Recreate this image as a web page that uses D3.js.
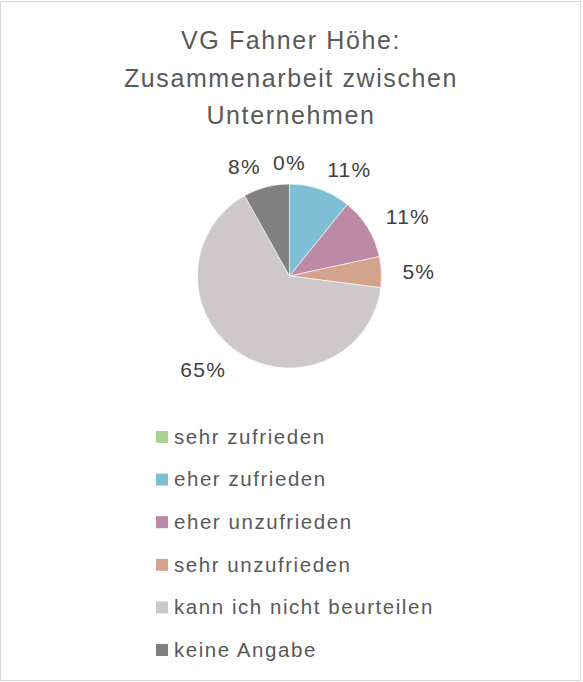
<!DOCTYPE html>
<html>
<head>
<meta charset="utf-8">
<script src="https://cdn.jsdelivr.net/npm/d3@7"></script>
<style>
  html, body { margin: 0; padding: 0; background: #fff; }
  svg { display: block; }
</style>
</head>
<body>
<svg id="chart" width="583" height="682" font-family="'Liberation Sans', Arial, Helvetica, sans-serif"></svg>
<script>
// Survey answers: number of responses per category
const categories = ["sehr zufrieden", "eher zufrieden", "eher unzufrieden", "sehr unzufrieden", "kann ich nicht beurteilen", "keine Angabe"];
const counts = [0, 4, 4, 2, 24, 3];
const colors = ["#a9d18e", "#7fbfd4", "#bc8aa6", "#d4a38d", "#cec8ca", "#808080"];
const titleLines = ["VG Fahner Höhe:", "Zusammenarbeit zwischen", "Unternehmen"];

const svg = d3.select("#chart");

// chart area frame
svg.append("rect")
  .attr("x", 0.5).attr("y", 1.5).attr("width", 580).attr("height", 679)
  .attr("fill", "#fff").attr("stroke", "#d9d9d9").attr("stroke-width", 1);

// title
svg.append("g").selectAll("text").data(titleLines).join("text")
  .attr("x", 291).attr("y", (d, i) => 49 + i * 37.5)
  .attr("text-anchor", "middle")
  .attr("fill", "#595959").attr("font-size", 25)
  .attr("letter-spacing", 1.6)
  .text(d => d);

// pie
const cx = 289.5, cy = 276, r = 92;
const total = d3.sum(counts);
const pie = d3.pie().sort(null).value(d => d)(counts);
const arc = d3.arc().innerRadius(0).outerRadius(r);
const color = d3.scaleOrdinal().domain(categories).range(colors);

const g = svg.append("g").attr("transform", `translate(${cx},${cy})`);
g.selectAll("path").data(pie).join("path")
  .attr("d", arc)
  .attr("fill", (d, i) => color(categories[i]))
  .attr("stroke", "#fff").attr("stroke-width", 0.6);

// percentage labels outside the slices
const pct = d3.format(".0%");
const labelR = 113;
g.selectAll("text").data(pie).join("text")
  .each(function(d) {
    const a = (d.startAngle + d.endAngle) / 2;
    const s = Math.sin(a), c = Math.cos(a);
    d3.select(this)
      .attr("x", s * labelR)
      .attr("y", -c * labelR)
      .attr("text-anchor", s > 0.3 ? "start" : (s < -0.2 ? "end" : "middle"));
  })
  .attr("dy", "0.35em")
  .attr("fill", "#404040").attr("font-size", 21)
  .attr("letter-spacing", 1.3)
  .text(d => pct(d.data / total));

// legend
const lg = svg.append("g").attr("transform", "translate(156,437)");
const rows = lg.selectAll("g").data(categories).join("g")
  .attr("transform", (d, i) => `translate(0,${i * 42.6})`);
rows.append("rect")
  .attr("x", 0).attr("y", -6).attr("width", 12).attr("height", 12)
  .attr("fill", d => color(d));
rows.append("text")
  .attr("x", 18).attr("y", 0).attr("dy", "0.33em")
  .attr("fill", "#595959").attr("font-size", 20.5)
  .attr("letter-spacing", 1.55)
  .text(d => d);
</script>
</body>
</html>
